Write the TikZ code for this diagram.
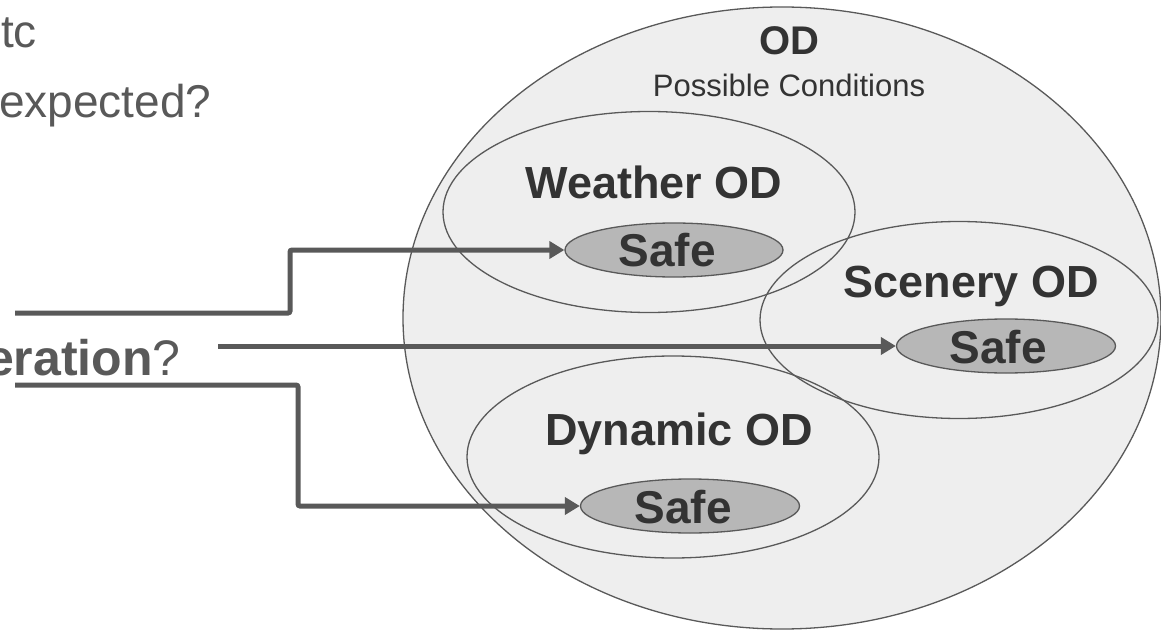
\documentclass[tikz,border=0pt]{standalone}
\usepackage{fontspec}
\setmainfont{Liberation Sans}
\usetikzlibrary{arrows.meta,shapes.geometric}

\definecolor{linegray}{HTML}{595959}
\definecolor{odfill}{HTML}{EEEEEE}
\definecolor{safefill}{HTML}{B7B7B7}
\definecolor{labelink}{HTML}{333333}

\tikzset{
  region/.style={ellipse, draw=linegray, line width=1.3pt, inner sep=0pt},
  outerregion/.style={region, fill=odfill},
  saferegion/.style={region, fill=safefill},
  boldlabel/.style={anchor=base, inner sep=0pt, text=labelink,
    font=\fontsize{45}{54}\selectfont\bfseries},
  safelabel/.style={anchor=base, inner sep=0pt, text=labelink,
    font=\fontsize{46}{55}\selectfont\bfseries},
  sidetext/.style={anchor=base west, inner sep=0pt, text=linegray,
    font=\fontsize{46}{55}\selectfont},
  conn/.style={draw=linegray, line width=5pt, rounded corners=2pt,
    -{Triangle[length=15pt,width=17pt]}},
  plainconn/.style={draw=linegray, line width=5pt, rounded corners=2pt}
}

\begin{document}
\begin{tikzpicture}[x=1pt,y=-1pt]
\useasboundingbox (0,0) rectangle (1161,631);
\clip (0,0) rectangle (1161,631);

% overall operating domain
\node[outerregion, minimum width=758pt, minimum height=622pt] (od) at (782,318) {};
\node[boldlabel, font=\fontsize{40}{48}\selectfont\bfseries] (odtitle) at (789,55) {OD};
\node[anchor=base, inner sep=0pt, text=labelink, font=\fontsize{31}{37}\selectfont]
  (odsub) at (789,97) {Possible Conditions};

% sub-domains (outline only)
\node[region, minimum width=412pt, minimum height=201pt] (weather) at (649,212) {};
\node[region, minimum width=398pt, minimum height=197pt] (scenery) at (959,320) {};
\node[region, minimum width=412pt, minimum height=202pt] (dynamic) at (673,457) {};

\node[boldlabel] (weathertxt) at (654,198) {Weather OD};
\node[boldlabel] (scenerytxt) at (971,297) {Scenery OD};
\node[boldlabel] (dynamictxt) at (679,445) {Dynamic OD};

% safe cores
\node[saferegion, minimum width=218pt, minimum height=54pt] (wsafe) at (674,250) {};
\node[saferegion, minimum width=219pt, minimum height=54pt] (ssafe) at (1006,346) {};
\node[saferegion, minimum width=219pt, minimum height=54pt] (dsafe) at (690,506) {};

\node[safelabel] (wsafetxt) at (667,266) {Safe};
\node[safelabel] (ssafetxt) at (998,363) {Safe};
\node[safelabel] (dsafetxt) at (683,523) {Safe};

% text on the left
\node[sidetext] (etc) at (1,48) {tc};
\node[sidetext] (expected) at (-1,118) {expected?};
\node[sidetext, font=\fontsize{50}{60}\selectfont] (operation) at (-14,375)
  {\textbf{eration}?};

% connectors
\coordinate (s1) at (15,313);
\coordinate (k1) at (290,313);
\coordinate (s2) at (218,346);
\coordinate (s3) at (15,385);
\coordinate (k3) at (298,385);

\draw[conn] (s1) -- (k1) |- (wsafe.west);
\draw[conn] (s2) -- (ssafe.west);
\draw[conn] (s3) -- (k3) |- (dsafe.west);
\end{tikzpicture}
\end{document}
